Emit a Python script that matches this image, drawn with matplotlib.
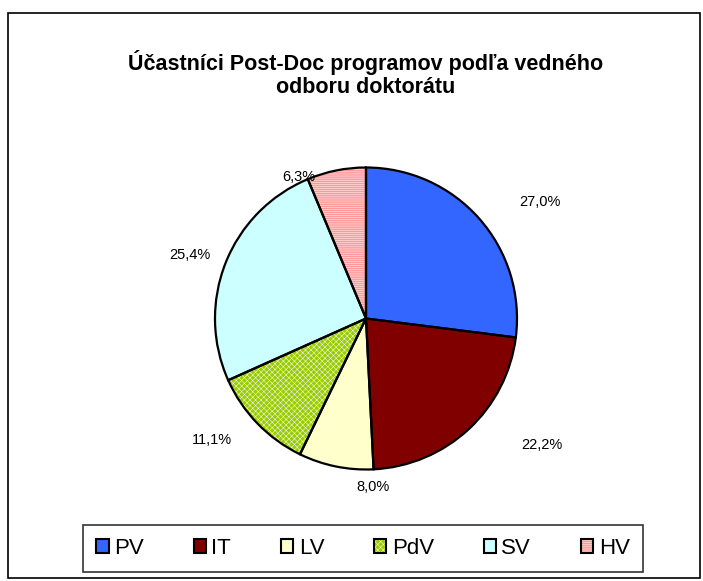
import matplotlib
matplotlib.use("Agg")
import matplotlib.pyplot as plt
from matplotlib.patches import Rectangle

plt.rcParams["font.family"] = ["Liberation Sans", "DejaVu Sans"]
plt.rcParams["hatch.linewidth"] = 0.35

# data
categories = ["PV", "IT", "LV", "PdV", "SV", "HV"]
shares = [27.0, 22.2, 8.0, 11.1, 25.4, 6.3]
colors = ["#3366FF", "#800000", "#FFFFCC", "#99CC00", "#CCFFFF", "#FF9999"]
hatches = ["", "", "", "xxxxxx", "", "--------"]
title = "Účastníci Post-Doc programov podľa vedného\nodboru doktorátu"

# label positions (pixel centres, Excel places them by hand-ish)
label_px = [(540, 202), (542, 445), (373, 487), (212, 440), (190, 255), (299, 177)]

W, H = 703, 581
fig = plt.figure(figsize=(W / 100, H / 100), dpi=100)
fig.patch.set_facecolor("white")

# outer chart frame
fig.add_artist(Rectangle((8 / W, 1 - 578 / H), 692 / W, 565 / H,
                         transform=fig.transFigure, fill=False,
                         edgecolor="black", linewidth=1.2))

cx, cy, r = 366, 318.5, 151
ax = fig.add_axes([(cx - r) / W, 1 - (cy + r) / H, 2 * r / W, 2 * r / H])
ax.axis("off")

# filled + hatched wedges
wedges, _ = ax.pie(shares, colors=colors, startangle=90, counterclock=False,
                   radius=1, hatch=hatches,
                   wedgeprops=dict(edgecolor="white", linewidth=0))
# black outlines and labels
outl, _, autotexts = ax.pie(
    shares, startangle=90, counterclock=False, radius=1,
    autopct=lambda p: f"{p:.1f}%".replace(".", ","),
    wedgeprops=dict(facecolor="none", edgecolor="black", linewidth=1.6),
    textprops=dict(fontsize=10.5, color="black"))
ax.set_xlim(-1, 1)
ax.set_ylim(-1, 1)
for t, (px, py) in zip(autotexts, label_px):
    t.set_position(((px - cx) / r, (cy - py) / r))
    t.set_ha("center")
    t.set_va("center")

fig.text(366 / W, 1 - 74 / H, title, ha="center", va="center",
         fontsize=15.5, fontweight="bold", linespacing=1.15)

# legend: handles from the filled wedges
handles = []
for w in wedges:
    h = Rectangle((0, 0), 1, 1, facecolor=w.get_facecolor(),
                  hatch=w.get_hatch(), edgecolor="black", linewidth=1.5)
    h._hatch_color = (1, 1, 1, 1)
    handles.append(h)
leg = fig.legend(handles, categories, ncol=6, loc="center",
                 bbox_to_anchor=(83 / W, 1 - 575 / H, 560 / W, 53 / H),
                 bbox_transform=fig.transFigure, mode="expand",
                 fontsize=16, frameon=True, fancybox=False,
                 handlelength=0.55, handleheight=0.55, handletextpad=0.25,
                 borderaxespad=0, borderpad=0.6, columnspacing=1.0)
leg.get_frame().set_edgecolor("black")
leg.get_frame().set_linewidth(1.2)

fig.savefig("out.png", dpi=100, facecolor="white")
